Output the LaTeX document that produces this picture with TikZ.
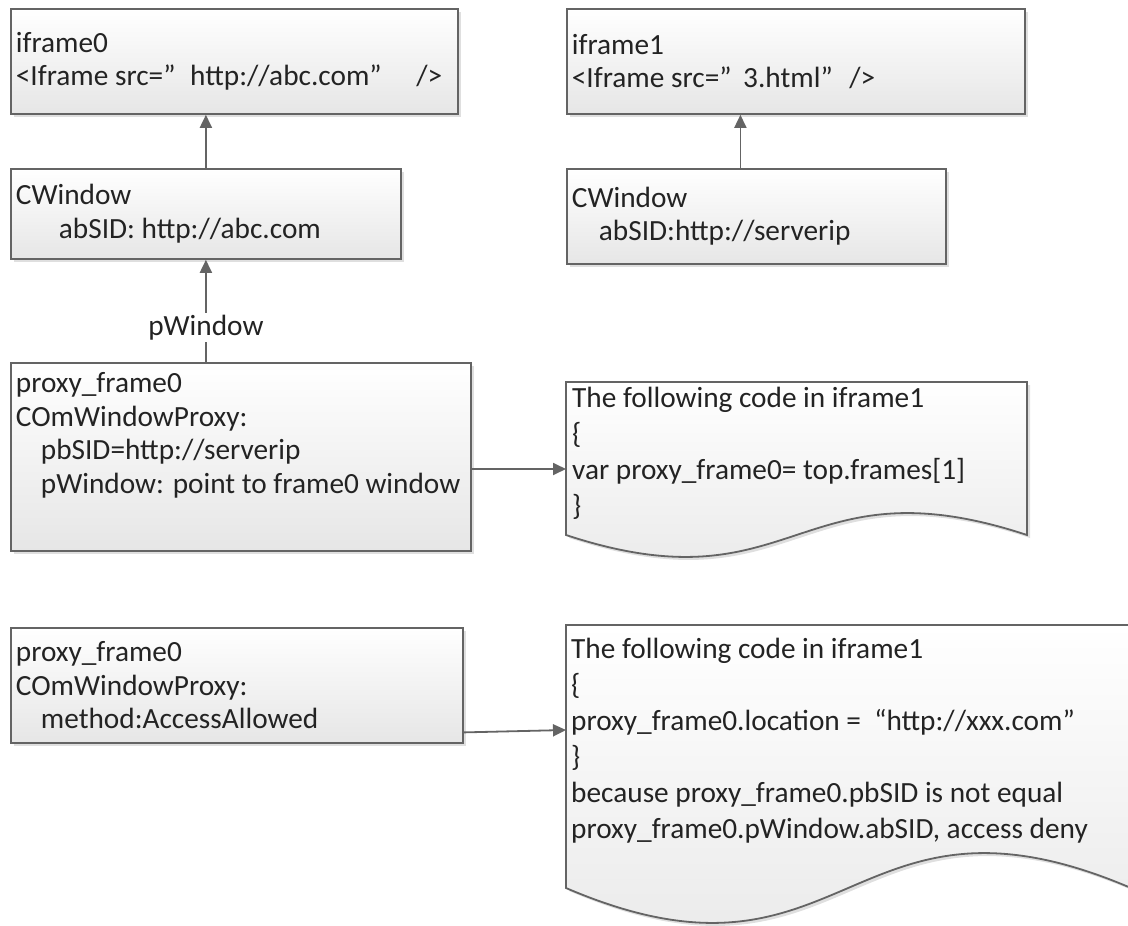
\documentclass[tikz,border=0pt]{standalone}
\usepackage{fontspec}
\setmainfont{Carlito}
\usetikzlibrary{arrows.meta, shadows, positioning}

\definecolor{lineclr}{RGB}{100,100,100}
\definecolor{fillclr}{RGB}{230,230,230}
\definecolor{txtclr}{RGB}{35,35,35}

\tikzset{
  arrow/.style={line width=1.8pt, draw=lineclr, -{Triangle[length=13pt,width=12pt]}},
  shade box/.style={top color=white, bottom color=fillclr, drop shadow={shadow xshift=3pt, shadow yshift=-3pt, opacity=0.25}},
  winbox/.style={rectangle, draw=lineclr, line width=1.8pt, shade box, anchor=north west, align=flush left, inner xsep=5pt, inner ysep=0pt, text=txtclr, font=\fontsize{29.3}{33.5}\selectfont},
  docshape/.style={draw=lineclr, line width=1.8pt, shade box},
  codetext/.style={anchor=north west, align=left, inner sep=0pt, text=txtclr, font=\fontsize{29.3}{36}\selectfont},
}

\begin{document}
\begin{tikzpicture}[x=1pt, y=-1pt]
\useasboundingbox (0,0) rectangle (1128,926);

% frames and windows
\node (iframeA) [winbox, text width=437pt, minimum height=105pt] at (10,8) {iframe0\\<Iframe src=”\hspace{8pt} http://abc.com”\hspace{28pt} />};
\node (iframeB) [winbox, text width=448pt, minimum height=105pt] at (566,8) {iframe1\\<Iframe src=”\hspace{5pt} 3.html”\hspace{10pt} />};
\node (cwinA) [winbox, text width=380pt, minimum height=90pt] at (10,168) {CWindow\\\hspace*{43pt}abSID: http://abc.com};
\node (cwinB) [winbox, text width=369pt, minimum height=95pt] at (566,168) {CWindow\\\hspace*{27pt}abSID:http://serverip};

% proxy objects
\node (proxyA) [winbox, text width=450pt, minimum height=188pt] at (10,362) {proxy\_frame0\\COmWindowProxy:\\\hspace*{25pt}pbSID=http://serverip\\\hspace*{25pt}\mbox{pWindow: point to frame0 window}\\[14pt]\mbox{}};
\node (methodA) [winbox, text width=442pt, minimum height=115pt] at (10,627) {proxy\_frame0\\COmWindowProxy:\\\hspace*{25pt}method:AccessAllowed};

% code documents
\path[docshape] (566,382) -- (1027,382) -- (1027,535) .. controls (796.5,459) and (796.5,611) .. (566,535) -- cycle;
\node (codeA) [codetext] at (572,387) {The following code in iframe1\\\{\\var proxy\_frame0= top.frames[1]\\\}};

\path[docshape] (566,625) -- (1131,625) -- (1131,888) .. controls (848,767) and (848,1009) .. (566,888) -- cycle;
\node (codeB) [codetext] at (571,638) {The following code in iframe1\\\{\\proxy\_frame0.location = \ “http://xxx.com”\\\}\\because proxy\_frame0.pbSID is not equal\\proxy\_frame0.pWindow.abSID, access deny};

\coordinate (codeAin) at (566,469);
\coordinate (codeBin) at (566,730);

% connectors
\draw [arrow] (cwinA.north) -- (cwinA.north |- iframeA.south);
\draw [arrow] ([xshift=-16pt]cwinB.north) -- ([xshift=-16pt]cwinB.north |- iframeB.south);
\draw [arrow] (proxyA.north -| cwinA.south) -- node[pos=0.34, fill=white, inner sep=2pt, text=txtclr, font=\fontsize{29.3}{33.5}\selectfont] (pwinlbl) {pWindow} (cwinA.south);
\draw [arrow] (proxyA.east |- codeAin) -- (codeAin);
\draw [arrow] ([yshift=-47pt]methodA.east) -- (codeBin);
\end{tikzpicture}
\end{document}
